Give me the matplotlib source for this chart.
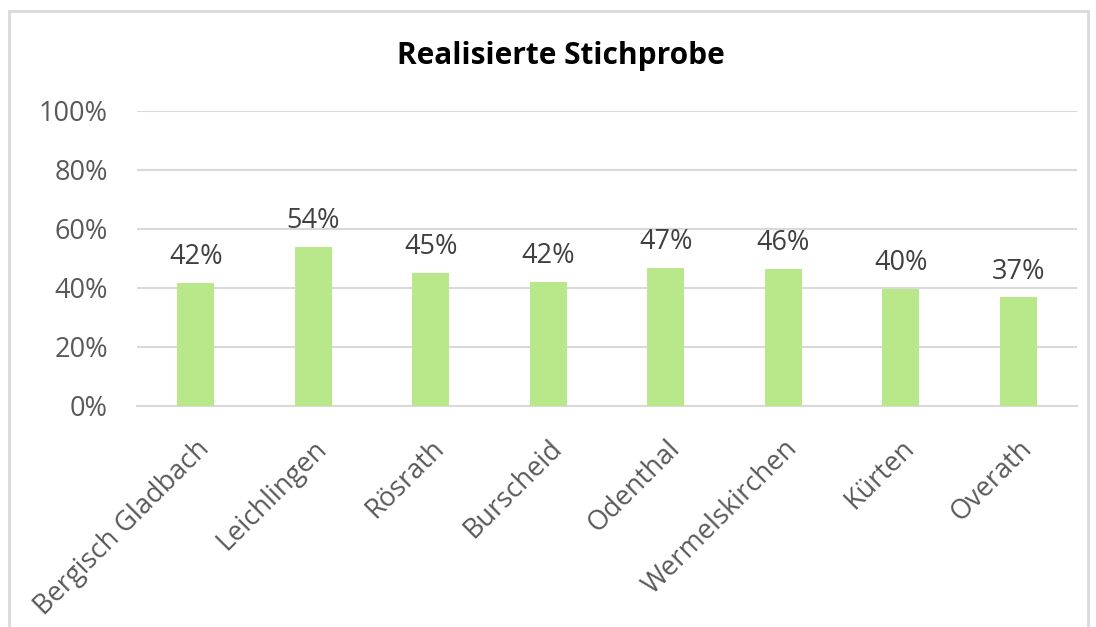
import matplotlib.pyplot as plt
import numpy as np
from matplotlib.patches import Rectangle

orte = ['Bergisch Gladbach', 'Leichlingen', 'Rösrath', 'Burscheid',
        'Odenthal', 'Wermelskirchen', 'Kürten', 'Overath']
anteil = [0.416, 0.539, 0.451, 0.420, 0.468, 0.464, 0.396, 0.368]
labels = ['42%', '54%', '45%', '42%', '47%', '46%', '40%', '37%']
yticks = [0, 0.2, 0.4, 0.6, 0.8, 1.0]

plt.rcParams['font.family'] = ['Open Sans', 'DejaVu Sans']
grey = '#595959'

fig = plt.figure(figsize=(10.96, 6.27), dpi=100)
fig.set_facecolor('w')
ax = fig.add_axes([0.125, 0.3525, 0.8577, 0.4705])

# chart border
fig.patches.append(Rectangle((9 / 1096, -0.1), (1088 - 9) / 1096, 1 - 11 / 627 + 0.1,
                             transform=fig.transFigure, fill=False,
                             edgecolor='#d9d9d9', linewidth=2))

x = np.arange(len(orte))
ax.bar(x, anteil, width=0.315, color='#b9e88a', zorder=3)
for xi, v, lab in zip(x, anteil, labels):
    ax.text(xi, v + 0.04, lab, ha='center', va='bottom', fontsize=19.5, color='#404040')

ax.set_xlim(-0.5, len(orte) - 0.5)
ax.set_ylim(0, 1.0)
ax.set_yticks(yticks)
ax.set_yticklabels([f'{int(t * 100)}%' for t in yticks], fontsize=19.5, color=grey)
ax.yaxis.grid(True, color='#d9d9d9', linewidth=1.5, zorder=0)
ax.tick_params(axis='y', length=0, pad=21)
ax.tick_params(axis='x', length=0)
ax.set_xticks(x)
ax.set_xticklabels(orte, rotation=45, ha='right', rotation_mode='anchor',
                   fontsize=19.5, color=grey)
for t in ax.get_xticklabels():
    t.set_y(-0.08)
for s in ['top', 'right', 'left']:
    ax.spines[s].set_visible(False)
ax.spines['bottom'].set_color('#d9d9d9')
ax.spines['bottom'].set_linewidth(1.5)

fig.text(561 / 1096, 1 - 56 / 627, 'Realisierte Stichprobe', ha='center', va='center',
         fontsize=21.5, fontweight='bold', color='black')

fig.savefig('out.png', dpi=100)
